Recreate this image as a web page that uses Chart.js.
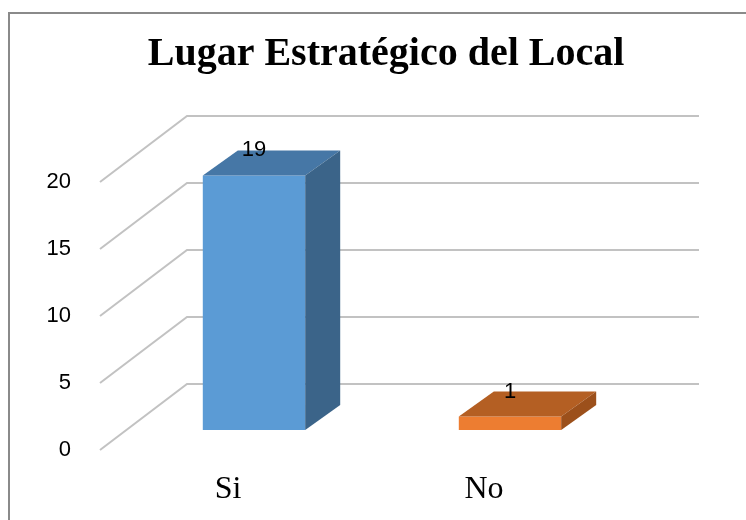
<!DOCTYPE html>
<html>
<head>
<meta charset="utf-8">
<script src="https://cdn.jsdelivr.net/npm/chart.js@4.4.0/dist/chart.umd.min.js"></script>
<style>
  html, body { margin: 0; padding: 0; background: #fff; }
</style>
</head>
<body>
<canvas id="myChart" width="746" height="520"></canvas>
<script>
const categories = ['Si', 'No'];
const counts = [19, 1];
const yTicks = [0, 5, 10, 15, 20];
const chartTitle = 'Lugar Estratégico del Local';

const frontColors = ['#5b9bd5', '#ed7d31'];
const topColors = ['#4677a6', '#b45f23'];
const sideColors = ['#3b6489', '#9c501b'];

const numFont = "'Liberation Sans Narrow', 'Liberation Sans', Arial, sans-serif";
const serifFont = "'Liberation Serif', 'Times New Roman', serif";

// 3d look: front plane -> back wall, and where the bars sit
const wallDx = 87, wallDy = -66;
const barDx = 26, barDy = -20;
const boxDx = 35, boxDy = -25;

const box3d = {
  id: 'box3d',
  beforeDraw(chart) {
    const ctx = chart.ctx;
    ctx.save();
    ctx.fillStyle = '#fff';
    ctx.fillRect(0, 0, chart.width, chart.height);
    ctx.strokeStyle = '#8a8a8a';
    ctx.lineWidth = 2;
    ctx.strokeRect(9, 13, chart.width + 20, chart.height + 20);
    ctx.restore();
  },
  beforeDatasetsDraw(chart) {
    const ctx = chart.ctx, y = chart.scales.y, area = chart.chartArea;
    ctx.save();
    ctx.strokeStyle = '#c2c2c2';
    ctx.lineWidth = 2;
    yTicks.forEach(v => {
      const py = y.getPixelForValue(v);
      ctx.beginPath();
      ctx.moveTo(area.left, py);
      ctx.lineTo(area.left + wallDx, py + wallDy);
      ctx.lineTo(area.right + wallDx, py + wallDy);
      ctx.stroke();
    });
    ctx.restore();
    // bars' front faces are drawn a bit into the depth
    ctx.save();
    ctx.translate(barDx, barDy);
  },
  afterDatasetsDraw(chart) {
    const ctx = chart.ctx;
    const meta = chart.getDatasetMeta(0);
    meta.data.forEach((bar, i) => {
      const p = bar.getProps(['x', 'y', 'base', 'width'], true);
      const l = p.x - p.width / 2, r = p.x + p.width / 2;
      // top face
      ctx.fillStyle = topColors[i];
      ctx.beginPath();
      ctx.moveTo(l, p.y);
      ctx.lineTo(l + boxDx, p.y + boxDy);
      ctx.lineTo(r + boxDx, p.y + boxDy);
      ctx.lineTo(r, p.y);
      ctx.closePath();
      ctx.fill();
      // side face
      ctx.fillStyle = sideColors[i];
      ctx.beginPath();
      ctx.moveTo(r, p.y);
      ctx.lineTo(r + boxDx, p.y + boxDy);
      ctx.lineTo(r + boxDx, p.base + boxDy);
      ctx.lineTo(r, p.base);
      ctx.closePath();
      ctx.fill();
      // value label
      ctx.fillStyle = '#000';
      ctx.font = '22px ' + numFont;
      ctx.textAlign = 'center';
      ctx.textBaseline = 'middle';
      ctx.fillText(String(counts[i]), p.x, p.y + boxDy);
    });
    ctx.restore();
  }
};

const ctx = document.getElementById('myChart');
const myChart = new Chart(ctx, {
  type: 'bar',
  data: {
    labels: categories,
    datasets: [{
      data: counts,
      backgroundColor: frontColors,
      borderWidth: 0,
      categoryPercentage: 1,
      barPercentage: 0.4,
      clip: false
    }]
  },
  options: {
    responsive: false,
    animation: false,
    layout: { padding: { top: 30.5, left: 26, right: 0, bottom: 0 } },
    plugins: {
      legend: { display: false },
      tooltip: { enabled: false },
      title: {
        display: true,
        text: chartTitle,
        color: '#000',
        font: { family: serifFont, size: 40, weight: 'bold' },
        padding: { top: 0, bottom: 103.5 }
      }
    },
    scales: {
      x: {
        grid: { display: false },
        border: { display: false },
        ticks: { color: '#000', padding: 12, font: { family: serifFont, size: 32 } },
        afterFit(s) { s.height = 70; }
      },
      y: {
        min: 0,
        max: 20,
        afterBuildTicks(s) { s.ticks = yTicks.map(v => ({ value: v })); },
        grid: { display: false },
        border: { display: false },
        ticks: { color: '#000', padding: 21, font: { family: numFont, size: 22 } },
        afterFit(s) { s.width = 74; }
      },
      // empty right-hand space for the back wall
      yRight: {
        position: 'right',
        grid: { display: false },
        border: { display: false },
        ticks: { display: false },
        afterFit(s) { s.width = 134; }
      }
    }
  },
  plugins: [box3d]
});
</script>
</body>
</html>
